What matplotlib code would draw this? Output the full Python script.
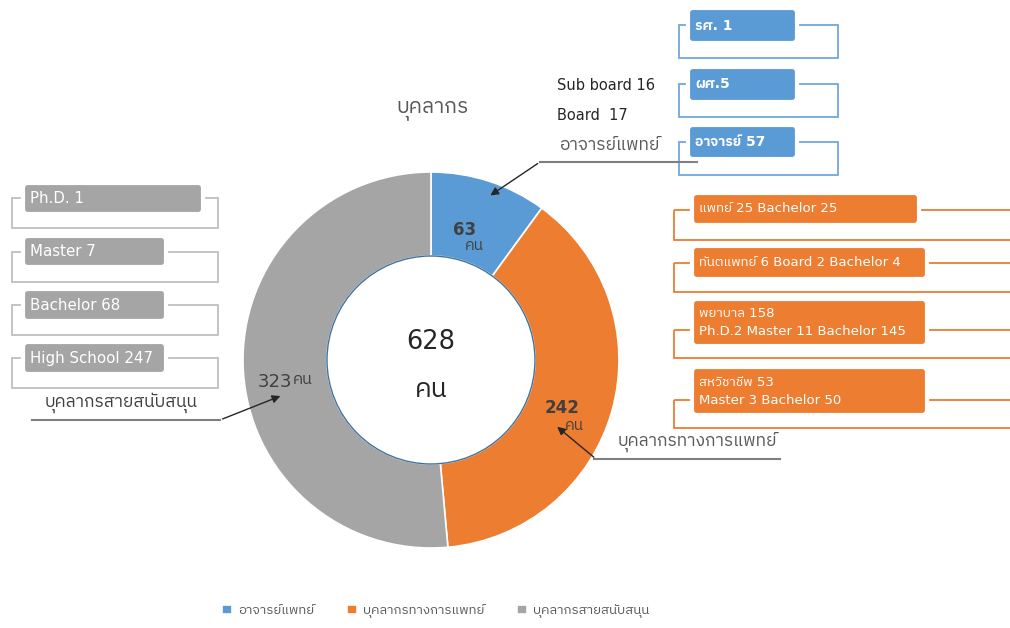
import matplotlib
matplotlib.use("Agg")
import matplotlib.pyplot as plt
from matplotlib import font_manager
from matplotlib.ft2font import FT2Font
from matplotlib.patches import FancyBboxPatch, Rectangle, Circle

# data
categories = ['อาจารย์แพทย์', 'บุคลากรทางการแพทย์', 'บุคลากรสายสนับสนุน']
counts = [63, 242, 323]
colors = ['#5B9BD5', '#ED7D31', '#A5A5A5']
teacher_tags = ['รศ. 1', 'ผศ.5', 'อาจารย์ 57']
board_notes = ['Sub board 16', 'Board  17']
medical_tags = ['แพทย์ 25 Bachelor 25',
                'ทันตแพทย์ 6 Board 2 Bachelor 4',
                'พยาบาล 158\nPh.D.2 Master 11 Bachelor 145',
                'สหวิชาชีพ 53\nMaster 3 Bachelor 50']
support_tags = ['Ph.D. 1', 'Master 7', 'Bachelor 68', 'High School 247']


def find_thai_font():
    found = []
    for f in font_manager.fontManager.ttflist:
        try:
            if 0x0E04 in FT2Font(f.fname).get_charmap():
                found.append(f.name)
        except Exception:
            pass
    for name in found:
        if 'Sans' in name:
            return name
    return found[0] if found else None


thai = find_thai_font()
fams = ['DejaVu Sans'] + ([thai] if thai else [])
plt.rcParams['font.family'] = fams

fig = plt.figure(figsize=(10.1, 6.28), dpi=100)
ax = fig.add_axes([0, 0, 1, 1])

cx, cy, r_out, r_in = 431, 360, 188, 104
total = sum(counts)

# y axis is flipped, so counterclock in data == clockwise on screen
wedges, _ = ax.pie(counts, colors=colors, startangle=-90, counterclock=True,
                   center=(cx, cy), radius=r_out, frame=True,
                   wedgeprops=dict(width=r_out - r_in, edgecolor='white', linewidth=1.2))
ax.set_xlim(0, 1010)
ax.set_ylim(628, 0)
ax.axis('off')
ax.add_patch(Circle((cx, cy), r_in, facecolor='white', edgecolor='#41719C', lw=1, zorder=3))

dark = '#404040'
ax.text(cx, 342, str(total), ha='center', va='center', fontsize=18.5, color='#262626', zorder=4)
ax.text(cx, 390, 'คน', ha='center', va='center', fontsize=19, color='#262626', zorder=4)
ax.text(453, 230, str(counts[0]), fontsize=12, color=dark, fontweight='bold', va='center')
ax.text(465, 246, 'คน', fontsize=11, color=dark, va='center')
ax.text(545, 408, str(counts[1]), fontsize=12, color=dark, fontweight='bold', va='center')
ax.text(565, 425, 'คน', fontsize=11, color=dark, va='center')
ax.text(258, 382, str(counts[2]), fontsize=13, color=dark, va='center')
ax.text(293, 379, 'คน', fontsize=11.5, color=dark, va='center')

ax.text(432, 110, 'บุคลากร', ha='center', va='center', fontsize=15, color='#595959')


def tag(text, box, bracket, color, edge, size, weight):
    bx0, bx1, by0, by1 = bracket
    ax.add_patch(Rectangle((bx0, by0), bx1 - bx0, by1 - by0, fill=False,
                           edgecolor=edge, lw=1.3, zorder=2))
    x0, x1, y0, y1 = box
    ax.add_patch(FancyBboxPatch((x0, y0), x1 - x0, y1 - y0,
                                boxstyle='round,pad=0,rounding_size=5',
                                facecolor=color, edgecolor='white', lw=3, zorder=3))
    ax.text(x0 + 7, (y0 + y1) / 2, text, ha='left', va='center', color='white',
            fontsize=size, fontweight=weight, linespacing=1.5, zorder=4)


blue_rows = [(8, 43, 25, 58), (67, 102, 84, 117), (125, 159, 142, 175)]
for t, (y0, y1, b0, b1) in zip(teacher_tags, blue_rows):
    tag(t, (688, 797, y0, y1), (679, 838, b0, b1), colors[0], '#6FA8DC', 10, 'bold')

orange_rows = [(193, 225, 210, 240, 919), (246, 279, 263, 292, 927),
               (299, 346, 330, 358, 927), (367, 415, 400, 428, 927)]
for t, (y0, y1, b0, b1, xr) in zip(medical_tags, orange_rows):
    tag(t, (692, xr, y0, y1), (674, 1020, b0, b1), colors[1], colors[1], 9.5, 'normal')

gray_rows = [(183, 214, 198, 228, 203), (236, 267, 252, 282, 166),
             (289, 321, 305, 335, 166), (342, 374, 358, 388, 166)]
for t, (y0, y1, b0, b1, xr) in zip(support_tags, gray_rows):
    tag(t, (23, xr, y0, y1), (12, 218, b0, b1), colors[2], '#BFBFBF', 10.8, 'normal')

# group labels with arrows
ax.text(557, 86, board_notes[0], fontsize=10.5, color='#262626', va='center')
ax.text(557, 115, board_notes[1], fontsize=10.5, color='#262626', va='center')
ax.text(659, 145, categories[0], fontsize=12.5, color='#595959', va='center', ha='right')
ax.plot([540, 697], [162, 162], color='#7F7F7F', lw=1.5)
ax.annotate('', xy=(488, 197), xytext=(540, 162),
            arrowprops=dict(arrowstyle='-|>', color='#262626', lw=1, mutation_scale=12))

ax.text(618, 442, categories[1], fontsize=12.5, color='#595959', va='center')
ax.plot([594, 780], [459, 459], color='#7F7F7F', lw=1.5)
ax.annotate('', xy=(555, 425), xytext=(596, 459),
            arrowprops=dict(arrowstyle='-|>', color='#262626', lw=1, mutation_scale=12))

ax.text(45, 403, categories[2], fontsize=12.5, color='#404040', va='center')
ax.plot([32, 220], [420, 420], color='#7F7F7F', lw=1.5)
ax.annotate('', xy=(283, 395), xytext=(220, 420),
            arrowprops=dict(arrowstyle='-|>', color='#262626', lw=1, mutation_scale=12))

ax.legend(wedges, categories, loc='center', bbox_to_anchor=(436 / 1010, 1 - 611 / 628),
          ncol=3, frameon=False, fontsize=9.5, handlelength=0.7, handleheight=0.7,
          handletextpad=0.5, columnspacing=2.5, labelcolor='#595959')

fig.savefig('out.png', dpi=100)
